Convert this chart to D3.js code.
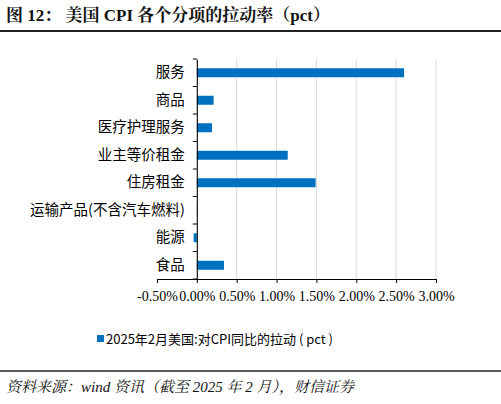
<!DOCTYPE html>
<html><head><meta charset="utf-8">
<script src="https://cdn.jsdelivr.net/npm/d3@7"></script>
<style>body{margin:0;background:#fff}</style>
</head><body><svg id="c" width="501" height="404"></svg>
<script>
var categories = ['服务','商品','医疗护理服务','业主等价租金','住房租金','运输产品(不含汽车燃料)','能源','食品'];
var values = [2.60, 0.21, 0.19, 1.14, 1.49, 0.005, -0.04, 0.34];
var ticks = [-0.5,0,0.5,1,1.5,2,2.5,3];

var svg = d3.select('#c');
var serif = '"Liberation Serif","Noto Serif CJK SC","Noto Sans CJK SC",serif';
var cjk = '"Noto Sans CJK SC",sans-serif';

svg.append('text').attr('x',6).attr('y',21).attr('font-family',serif)
  .attr('font-weight','bold').attr('font-size',17).attr('fill','#111')
  .text('图 12： 美国 CPI 各个分项的拉动率（pct）');
svg.append('line').attr('x1',0).attr('x2',501).attr('y1',31).attr('y2',31)
  .attr('stroke','#222').attr('stroke-width',2);

var x = d3.scaleLinear().domain([-0.5,3]).range([157,436]);
var y = d3.scaleBand().domain(categories).range([59,279]);

svg.append('g').selectAll('line').data(ticks.slice(1)).join('line')
  .attr('x1',d=>x(d)).attr('x2',d=>x(d)).attr('y1',59).attr('y2',279)
  .attr('stroke','#d9d9d9');

svg.append('g').selectAll('rect').data(values).join('rect')
  .attr('x',d=>x(Math.min(0,d))).attr('width',d=>Math.abs(x(d)-x(0)))
  .attr('y',(d,i)=>y(categories[i])+y.bandwidth()/2-4.5).attr('height',9)
  .attr('fill','#0070c0');

var ya = svg.append('g').attr('transform','translate('+x(0)+',0)')
  .call(d3.axisLeft(y).tickSize(0).tickPadding(12));
ya.select('.domain').attr('stroke','#000');
ya.selectAll('text').attr('font-family',cjk).attr('font-size',14.5).attr('fill','#000');
ya.selectAll('.yt').data(d3.range(categories.length+1)).join('line')
  .attr('x1',-4).attr('x2',0).attr('y1',i=>59+i*y.step()).attr('y2',i=>59+i*y.step())
  .attr('stroke','#000');

var xa = svg.append('g').attr('transform','translate(0,279)')
  .call(d3.axisBottom(x).tickValues(ticks).tickSize(4).tickSizeOuter(0)
  .tickFormat(d=>d.toFixed(2)+'%'));
xa.select('.domain').attr('stroke','#000');
xa.selectAll('text').attr('font-family',serif).attr('font-size',14).attr('fill','#000').attr('dy','1.1em');

svg.append('rect').attr('x',97).attr('y',335).attr('width',7).attr('height',7).attr('fill','#0070c0');
svg.append('text').attr('x',106).attr('y',344).attr('font-family',cjk).attr('font-size',13)
  .attr('fill','#000').text('2025年2月美国:对CPI同比的拉动 ( pct )');

svg.append('line').attr('x1',0).attr('x2',501).attr('y1',371).attr('y2',371)
  .attr('stroke','#222').attr('stroke-width',1.5);
svg.append('text').attr('x',6).attr('y',392).attr('font-family',serif).attr('font-style','italic')
  .attr('font-size',15).attr('fill','#111').text('资料来源：wind 资讯（截至 2025 年 2 月），财信证券');
</script></body></html>
